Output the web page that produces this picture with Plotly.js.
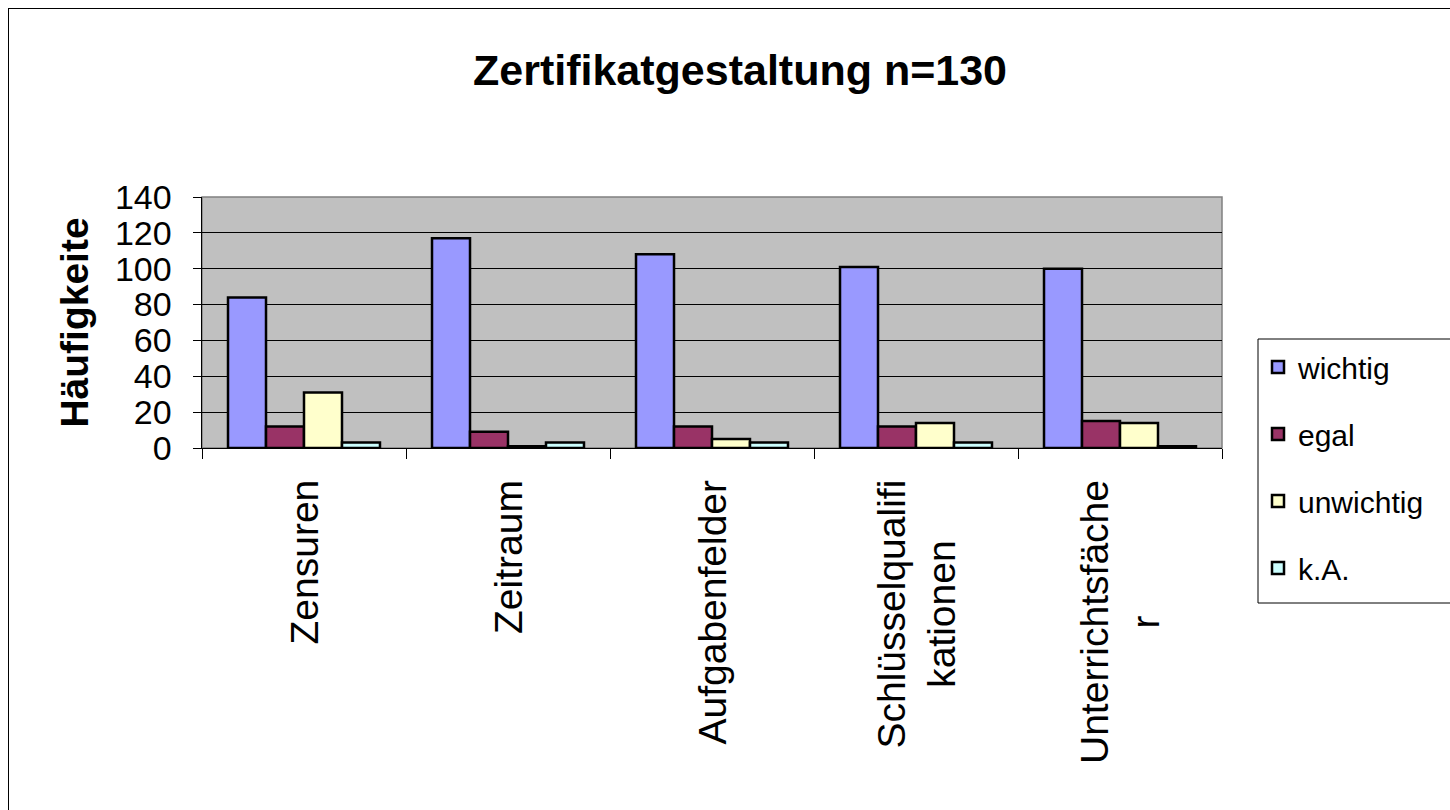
<!DOCTYPE html>
<html>
<head>
<meta charset="utf-8">
<script src="https://cdn.plot.ly/plotly-3.0.1.min.js"></script>
<style>
  html, body { margin: 0; padding: 0; background: #ffffff; }
  #frame { position: absolute; left: 8px; top: 8px; width: 1500px; height: 900px; border: 1.5px solid #000; box-sizing: border-box; }
  #chart { position: absolute; left: 0; top: 0; width: 1450px; height: 810px; }
</style>
</head>
<body>
<div id="frame"></div>
<div id="chart"></div>
<script>
// ---- data ----
const categories = ['Zensuren', 'Zeitraum', 'Aufgabenfelder', 'Schlüsselqualifikationen', 'Unterrichtsfächer'];
const categoryLabels = ['Zensuren', 'Zeitraum', 'Aufgabenfelder', 'Schlüsselqualifi<br>kationen', 'Unterrichtsfäche<br>r'];
const wichtig   = [84, 117, 108, 101, 100];
const egal      = [12, 9, 12, 12, 15];
const unwichtig = [31, 1, 5, 14, 14];
const kA        = [3, 3, 3, 3, 1];
const seriesNames = ['wichtig', 'egal', 'unwichtig', 'k.A.'];
const yTickVals = [0, 20, 40, 60, 80, 100, 120, 140];

const FONT = "'Liberation Sans', Arial, sans-serif";
const colors = ['#9999FF', '#993366', '#FFFFCC', '#CCFFFF'];
const values = [wichtig, egal, unwichtig, kA];

const traces = values.map((v, i) => ({
  type: 'bar',
  name: seriesNames[i],
  x: categories,
  y: v,
  legendgroup: 'g' + i,
  marker: { color: colors[i], line: { color: '#000000', width: 2.5 } },
  hoverinfo: 'x+y+name'
}));

const labelAnnotations = categories.map((c, i) => ({
  xref: 'x', x: c,
  yref: 'paper', y: 0, yshift: -30,
  yanchor: 'top', xanchor: 'center',
  text: categoryLabels[i],
  textangle: -90,
  align: 'center',
  showarrow: false,
  font: { family: FONT, size: 39, color: '#000' }
}));

const W = 1450, H = 810;
const PL = 202, PR = 1222, PT = 197, PB = 448;
const px2x = p => (p - PL) / (PR - PL);
const px2y = p => (PB - p) / (PB - PT);

const layout = {
  width: W, height: H,
  paper_bgcolor: 'rgba(0,0,0,0)',
  plot_bgcolor: '#C0C0C0',
  margin: { l: PL, r: W - PR, t: PT, b: H - PB },
  barmode: 'group',
  bargap: 0.255,
  bargroupgap: 0,
  title: {
    text: '<b>Zertifikatgestaltung n=130</b>',
    font: { family: FONT, size: 43, color: '#000' },
    xref: 'container', x: 740 / W, xanchor: 'center',
    yref: 'container', y: 1 - 70 / H, yanchor: 'middle'
  },
  xaxis: {
    type: 'category',
    tickson: 'boundaries',
    ticks: 'outside', ticklen: 10, tickcolor: '#000', tickwidth: 1,
    showticklabels: false,
    showline: true, linecolor: '#000', linewidth: 1,
    showgrid: false, zeroline: false, automargin: false
  },
  yaxis: {
    range: [0, 140],
    tickvals: yTickVals,
    ticktext: yTickVals.map(String),
    ticks: 'outside', ticklen: 8, tickcolor: '#000', tickwidth: 1,
    tickfont: { family: FONT, size: 34, color: '#000' },
    ticklabelstandoff: 14,
    showline: true, linecolor: '#000', linewidth: 1.5,
    showgrid: true, gridcolor: '#000000', gridwidth: 1,
    zeroline: false, automargin: false,
    title: {
      text: '<b>Häufigkeite</b>',
      font: { family: FONT, size: 39, color: '#000' },
      standoff: 14
    }
  },
  legend: {
    xref: 'container', x: 1258 / W, xanchor: 'left',
    yref: 'container', y: 1 - 341 / H, yanchor: 'top',
    bgcolor: 'rgba(0,0,0,0)', borderwidth: 0,
    font: { family: FONT, size: 30, color: '#000' },
    traceorder: 'grouped', tracegroupgap: 25,
    itemwidth: 30
  },
  annotations: labelAnnotations,
  shapes: [
    {
      type: 'rect', xref: 'paper', yref: 'paper', x0: 0, x1: 1, y0: 0, y1: 1,
      line: { color: '#808080', width: 1.5 }, layer: 'below'
    },
    {
      // legend frame, running off the right edge as in the reference
      type: 'rect', xref: 'paper', yref: 'paper',
      x0: px2x(1258), x1: px2x(1470), y0: px2y(603), y1: px2y(339),
      line: { color: '#000000', width: 1 }, fillcolor: '#ffffff', layer: 'below'
    }
  ],
  showlegend: true
};

Plotly.newPlot('chart', traces, layout, { displayModeBar: false, staticPlot: true });
</script>
</body>
</html>
